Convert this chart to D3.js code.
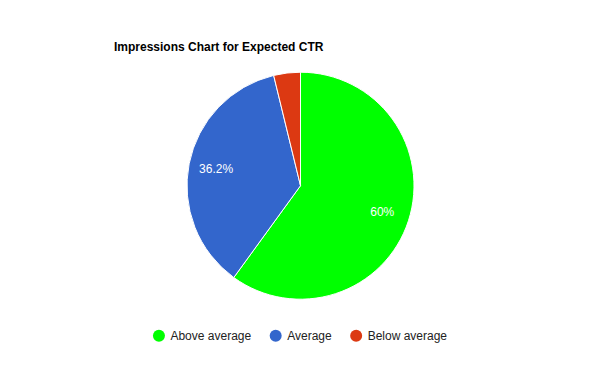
<!DOCTYPE html>
<html>
<head>
<meta charset="utf-8">
<script src="https://cdnjs.cloudflare.com/ajax/libs/d3/7.8.5/d3.min.js"></script>
<style>
  html, body { margin: 0; padding: 0; background: #fff; }
  svg { display: block; font-family: Arial, "Liberation Sans", sans-serif; }
</style>
</head>
<body>
<div id="chart"></div>
<script>
// Expected CTR buckets and their share of impressions
const categories = ['Above average', 'Average', 'Below average'];
const shares = [60, 36.2, 3.8];
const labels = ['60%', '36.2%', ''];
const colors = ['#00ff00', '#3366cc', '#dc3912'];

const W = 600, H = 371;
const CX = 300.5, CY = 185.7, R = 113.5;
const LABEL_R = 86;

const svg = d3.select('#chart').append('svg')
  .attr('width', W).attr('height', H);

svg.append('text')
  .attr('x', 114).attr('y', 50.5)
  .attr('font-size', 12).attr('font-weight', 'bold')
  .attr('fill', '#000')
  .text('Impressions Chart for Expected CTR');

const pie = d3.pie().sort(null).value(d => d.v);
const arcs = pie(categories.map((c, i) => ({ c, v: shares[i], i })));

const arc = d3.arc().innerRadius(0).outerRadius(R);
const labelArc = d3.arc().innerRadius(LABEL_R).outerRadius(LABEL_R);

const g = svg.append('g').attr('transform', `translate(${CX},${CY})`);

g.selectAll('path.slice')
  .data(arcs)
  .join('path')
  .attr('class', 'slice')
  .attr('d', arc)
  .attr('fill', d => colors[d.data.i])
  .attr('stroke', '#fff')
  .attr('stroke-width', 1);

g.selectAll('text.pct')
  .data(arcs)
  .join('text')
  .attr('class', 'pct')
  .attr('transform', d => `translate(${labelArc.centroid(d)})`)
  .attr('text-anchor', 'middle')
  .attr('dy', '0.35em')
  .attr('font-size', 12)
  .attr('fill', '#fff')
  .text(d => labels[d.data.i]);

// Legend: centered row of dot + label
const legend = svg.append('g');
const LEG_Y = 335.7, DOT_R = 6, TXT_GAP = 11.5, ITEM_GAP = 18.5;
let x = 0;
categories.forEach((c, i) => {
  const it = legend.append('g');
  it.append('circle').attr('cx', x + DOT_R).attr('cy', LEG_Y).attr('r', DOT_R)
    .attr('fill', colors[i]);
  const t = it.append('text')
    .attr('x', x + DOT_R + TXT_GAP).attr('y', LEG_Y).attr('dy', '0.35em')
    .attr('font-size', 12).attr('fill', '#222')
    .text(c);
  x += DOT_R + TXT_GAP + t.node().getComputedTextLength() + ITEM_GAP;
});
const total = x - ITEM_GAP;
legend.attr('transform', `translate(${(W - total) / 2},0)`);
</script>
</body>
</html>
